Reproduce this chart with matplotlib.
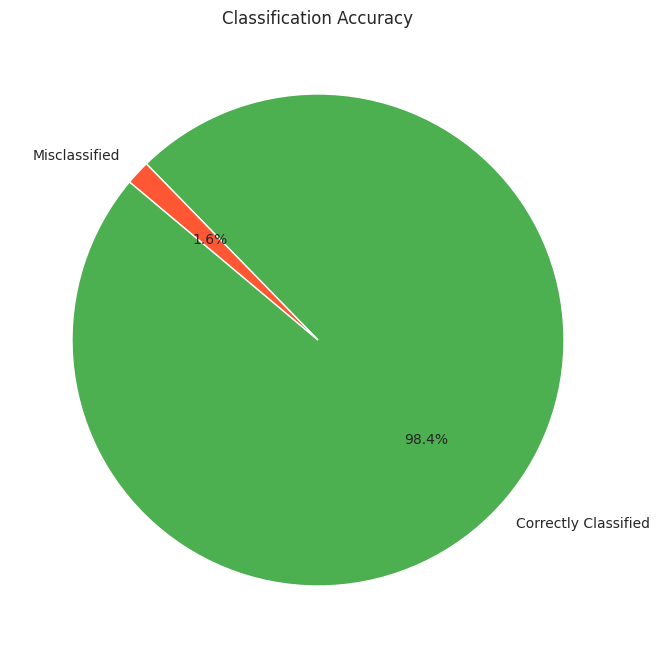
import matplotlib
matplotlib.use("Agg")
import matplotlib.pyplot as plt

labels = ["Correctly Classified", "Misclassified"]
shares = [98.4, 1.6]
colors = ["#4CAF50", "#FF5733"]

plt.rcParams["text.color"] = ".15"

fig = plt.figure(figsize=(6.6, 6.58), dpi=100)
ax = fig.add_axes([10.5 / 660, 10.5 / 658, 615 / 660, 615 / 658])
ax.pie(shares, labels=labels, colors=colors, autopct="%1.1f%%", startangle=140,
       wedgeprops={"edgecolor": "white"}, textprops={"fontsize": 10})
ax.set_title("Classification Accuracy", fontsize=12)
ax.set_aspect("equal")
ax.set_xlim(-1.25, 1.25)
ax.set_ylim(-1.25, 1.25)

fig.savefig("out.png", dpi=100)
